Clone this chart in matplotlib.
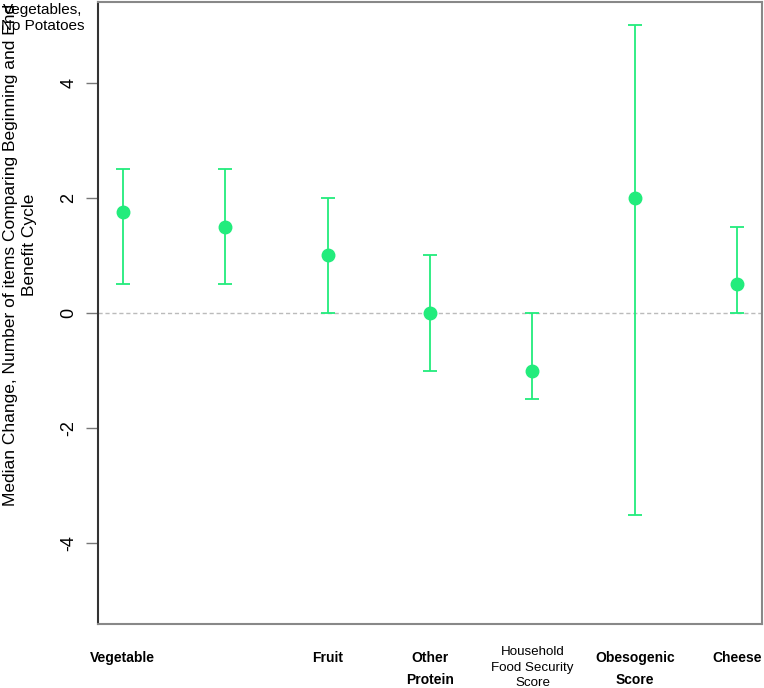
import numpy as np
import matplotlib.pyplot as plt

plt.rcParams['font.family'] = ['Liberation Sans', 'DejaVu Sans']

categories = ["Vegetable", "Vegetables,\nNo Potatoes", "Fruit", "Other\nProtein",
              "Household\nFood Security\nScore", "Obesogenic\nScore", "Cheese"]
medians = [1.75, 1.5, 1.0, 0.0, -1.0, 2.0, 0.5]
lower = [0.5, 0.5, 0.0, -1.0, -1.5, -3.5, 0.0]
upper = [2.5, 2.5, 2.0, 1.0, 0.0, 5.0, 1.5]

green = '#22EC7C'

fig = plt.figure(figsize=(7.64, 6.88), dpi=100)
ax = fig.add_axes([98/764, 1 - 624/688, 664/764, 622/688])

x = np.arange(1, len(categories) + 1)
med = np.array(medians)
err = [med - np.array(lower), np.array(upper) - med]

ax.axhline(0, color='#BBBBBB', lw=1, ls=(0, (3, 2)), zorder=1)
ax.errorbar(x, med, yerr=err, fmt='o', color=green, ecolor=green,
            ms=9, elinewidth=1.3, capsize=5, capthick=1.3, zorder=3)

ax.set_xlim(0.76, 7.24)
ax.set_ylim(-5.4, 5.4)
ax.set_yticks([-4, -2, 0, 2, 4])
ax.set_yticklabels(['-4', '-2', '0', '2', '4'], rotation=90, va='center', fontsize=13)
ax.tick_params(axis='y', length=9, width=1, color='#777777', pad=6)
ax.set_xticks([])

for s in ['top', 'right', 'bottom']:
    ax.spines[s].set_color('#888888')
    ax.spines[s].set_linewidth(1.5)
ax.spines['left'].set_color('#333333')
ax.spines['left'].set_linewidth(1.5)

# category labels under the axis (second one ends up at the top left)
for i, lab in enumerate(categories):
    if i == 1:
        fig.text(43/764, 1 - 18/688, lab, ha='center', va='center',
                 fontsize=11, linespacing=1.25)
    elif lab.count('\n') == 2:
        ax.annotate(lab, (x[i], 0), xycoords=('data', 'axes fraction'),
                    xytext=(0, -22), textcoords='offset pixels',
                    ha='center', va='top', fontsize=9.6, linespacing=1.4)
    else:
        ax.annotate(lab, (x[i], 0), xycoords=('data', 'axes fraction'),
                    xytext=(0, -27), textcoords='offset pixels',
                    ha='center', va='top', fontsize=10, fontweight='bold',
                    linespacing=1.75)

fig.text(20/764, 1 - 245/688,
         "Median Change, Number of items Comparing Beginning and End of\nBenefit Cycle",
         rotation=90, ha='center', va='center', fontsize=12.5, linespacing=1.3)

fig.savefig('out.png', dpi=100)
